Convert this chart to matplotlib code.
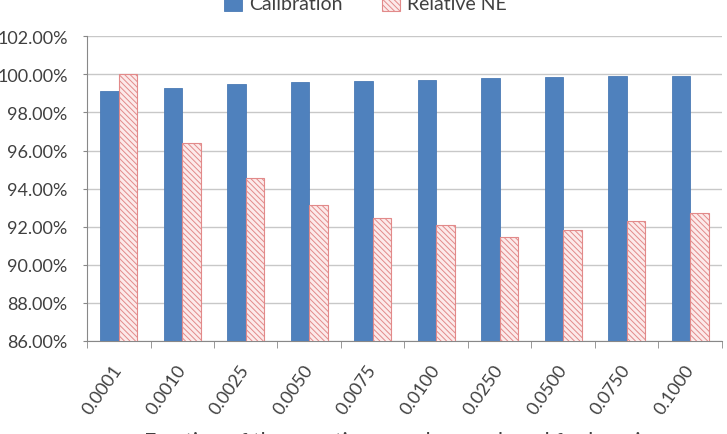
import matplotlib
matplotlib.use("Agg")
import matplotlib.pyplot as plt
import numpy as np
from matplotlib.ticker import FuncFormatter, FixedLocator


fractions = ["0.0001", "0.0010", "0.0025", "0.0050", "0.0075",
             "0.0100", "0.0250", "0.0500", "0.0750", "0.1000"]

calibration = [99.11, 99.30, 99.50, 99.60, 99.68,
               99.70, 99.81, 99.88, 99.91, 99.91]

relative_ne = [100.00, 96.39, 94.55, 93.16, 92.46,
               92.11, 91.44, 91.81, 92.30, 92.74]

y_ticks = [86, 88, 90, 92, 94, 96, 98, 100, 102]


def plot_data() -> None:
    plt.rcParams['font.family'] = ['Lato', 'DejaVu Sans']
    plt.rcParams['hatch.linewidth'] = 0.7
    text_color = "#404040"

    fig = plt.figure(figsize=(7.27, 4.35), dpi=100)
    ax = fig.add_axes([0.1197, 0.2138, 0.8733, 0.7004])

    x = np.arange(len(fractions))
    w = 0.294

    ax.bar(x - w / 2, calibration, width=w, color="#4F81BD",
           edgecolor="#4A7AB5", linewidth=0.6, zorder=3, label="Calibration")
    ax.bar(x + w / 2, relative_ne, width=w, color="#FCEAEA",
           edgecolor="#E28A8A", hatch="\\\\\\\\\\\\", linewidth=0.8,
           zorder=3, label="Relative NE")

    ax.set_ylim(86, 102)
    ax.set_xlim(-0.5, len(fractions) - 0.5)
    ax.set_yticks(y_ticks)
    ax.yaxis.set_major_formatter(FuncFormatter(lambda v, p: "%.2f%%" % v))
    ax.tick_params(axis="y", length=3, pad=11, color="#888888",
                   labelsize=13, labelcolor=text_color)

    ax.set_xticks(x)
    ax.set_xticklabels(fractions, rotation=55, ha="right", va="center",
                       rotation_mode="anchor", fontsize=13, color=text_color)
    ax.tick_params(axis="x", which="major", length=0, pad=18)
    ax.xaxis.set_minor_locator(FixedLocator(np.arange(-0.5, len(fractions), 1.0)))
    ax.tick_params(axis="x", which="minor", length=5, color="#888888")

    ax.grid(axis="y", color="#C8C8C8", linewidth=1.0, zorder=0)
    ax.set_axisbelow(True)
    for side in ["top", "right"]:
        ax.spines[side].set_visible(False)
    for side in ["left", "bottom"]:
        ax.spines[side].set_color("#888888")

    fig.text(0.556, 0.006, "Fraction of the negative samples employed for learning",
             ha="center", va="top", fontsize=15.5, color=text_color)

    handles, labels = ax.get_legend_handles_labels()
    fig.legend(handles, labels, loc="center", bbox_to_anchor=(0.503, 0.99),
               ncol=2, frameon=False, fontsize=14, handlelength=0.9,
               handleheight=0.9, columnspacing=2.0, handletextpad=0.4,
               labelcolor=text_color)

    fig.savefig("out.png", dpi=100)


def main() -> None:
    plot_data()


if __name__ == "__main__":
    main()
